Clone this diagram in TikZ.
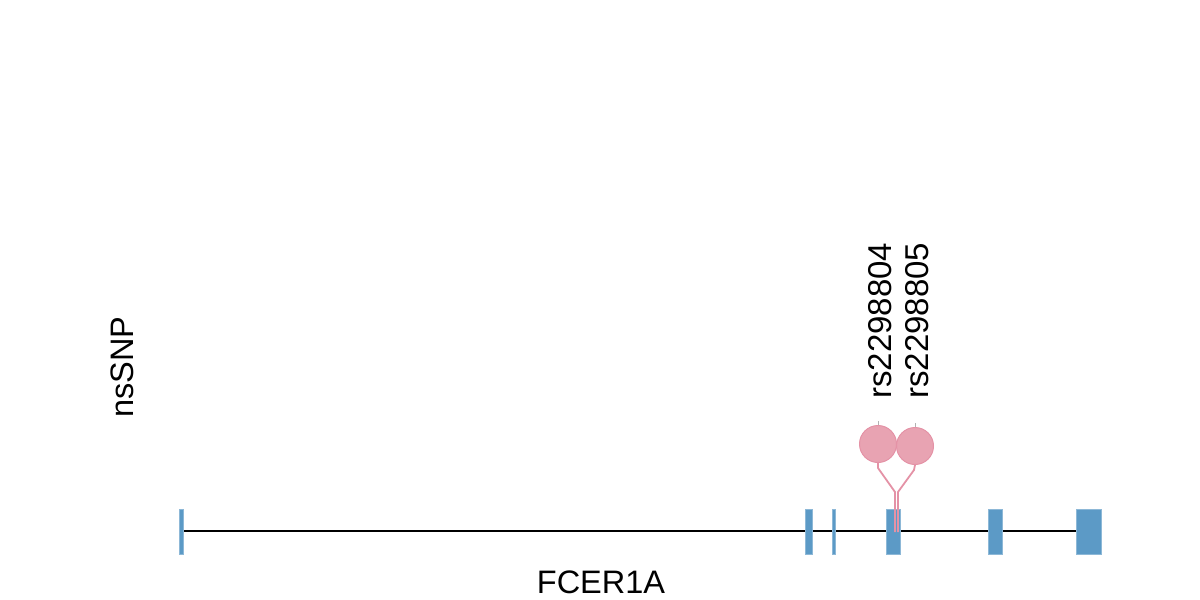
\documentclass[tikz,border=0pt]{standalone}
\usepackage{fontspec}
\setmainfont{Liberation Sans}
\definecolor{exonblue}{RGB}{92,154,198}
\definecolor{snppink}{RGB}{232,163,178}
\definecolor{snpedge}{RGB}{228,146,166}
\begin{document}
\begin{tikzpicture}[x=1pt,y=-1pt,
  exon/.style={fill=exonblue,draw=exonblue!70!white,line width=0.6pt},
  snp/.style={circle,fill=snppink,draw=snpedge,line width=1pt,minimum size=37pt,inner sep=0pt},
  stem/.style={draw=snpedge,line width=1.8pt},
  lab/.style={font=\fontsize{32.5}{38}\selectfont,inner sep=0pt},
  rslab/.style={font=\fontsize{33}{38}\selectfont,inner sep=0pt}]
\useasboundingbox (0,0) rectangle (1200,600);
% backbone
\coordinate (ls) at (183,531);
\coordinate (le) at (1076,531);
\draw[line width=1.3pt] (ls) -- (le);
% exons
\path[exon] (179,509) rectangle (183,554);
\path[exon] (805,509) rectangle (812,554);
\path[exon] (832,509) rectangle (835,554);
\path[exon] (886,509) rectangle (900,554);
\path[exon] (988,509) rectangle (1002,554);
\path[exon] (1076,509) rectangle (1101,554);
% stems
\coordinate (s1a) at (878,468);
\coordinate (s1b) at (895,492);
\coordinate (s1c) at (895,532);
\coordinate (s2a) at (914,470);
\coordinate (s2b) at (898,492);
\coordinate (s2c) at (898,532);
\draw[gray!60,line width=0.8pt] (878,421) -- (878,427);
\draw[gray!60,line width=0.8pt] (915,423) -- (915,429);
\node[snp] (c1) at (878,444) {};
\node[snp] (c2) at (915,446) {};
\draw[stem] (c1.south) -- (s1a) -- (s1b) -- (s1c);
\draw[stem] (c2.south) -- (s2a) -- (s2b) -- (s2c);
% labels
\node[rslab,rotate=90,anchor=base west] (t1) at (891,399) {rs2298804};
\node[rslab,rotate=90,anchor=base west] (t2) at (928,399) {rs2298805};
\node[lab,rotate=90,anchor=base west] (t3) at (133,418) {nsSNP};
\node[lab,anchor=base] (t4) at (601,593) {FCER1A};
\end{tikzpicture}
\end{document}
